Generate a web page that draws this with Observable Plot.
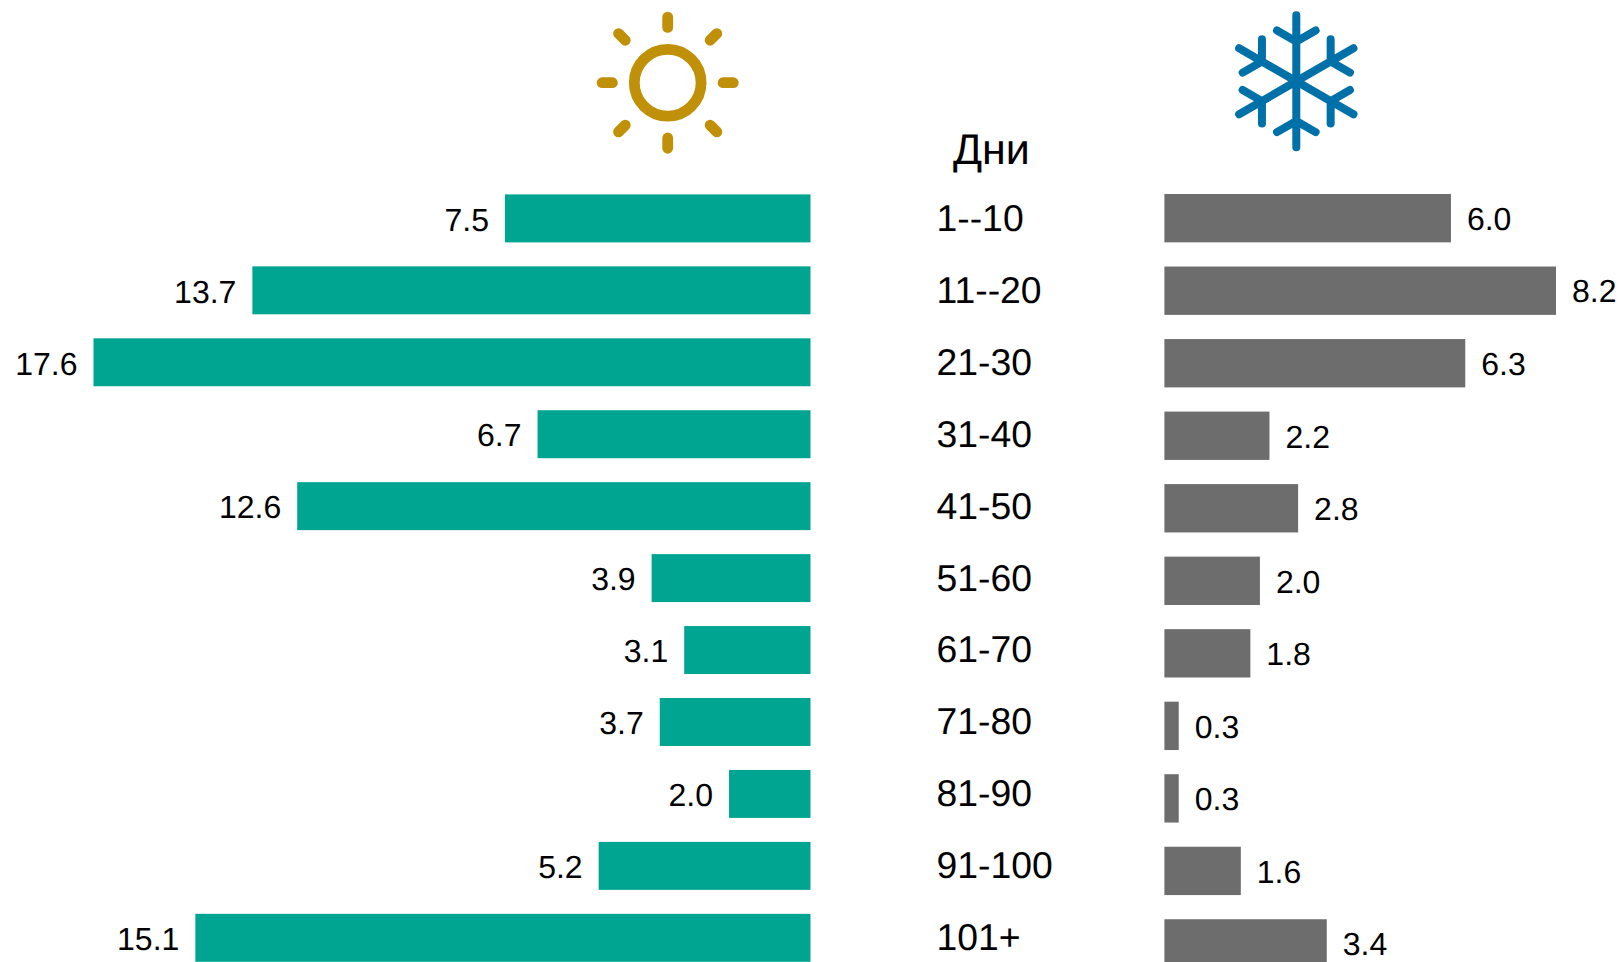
<!DOCTYPE html>
<html><head><meta charset="utf-8">
<script src="https://cdn.jsdelivr.net/npm/d3@7"></script>
<script src="https://cdn.jsdelivr.net/npm/@observablehq/plot@0.6"></script>
<style>
html,body{margin:0;padding:0;background:#fff}
#c{position:relative;width:1621px;height:962px;overflow:hidden;font-family:"Liberation Sans",Arial,sans-serif;text-rendering:geometricPrecision}
#c>svg,#c>div{position:absolute;left:0;top:0}
#h{left:953px!important;top:125px!important;font-size:43px;color:#000;line-height:50px}
</style></head><body><div id="c"></div>
<script>
const days=["1--10","11--20","21-30","31-40","41-50","51-60","61-70","71-80","81-90","91-100","101+"];
const summer=[7.5,13.7,17.6,6.7,12.6,3.9,3.1,3.7,2.0,5.2,15.1];
const winter=[6.0,8.2,6.3,2.2,2.8,2.0,1.8,0.3,0.3,1.6,3.4];
const headerLabel="Дни";
const left=days.map((d,i)=>({d,v:summer[i]}));
const right=days.map((d,i)=>({d,v:winter[i]}));
const font={fontFamily:"Liberation Sans, Arial, sans-serif",background:"none",overflow:"visible",textRendering:"geometricPrecision"};
const yOpts=(r)=>({domain:days,range:r,padding:1/3,paddingOuter:0,align:0.5,round:false,axis:null});
const pl=Plot.plot({width:1621,height:962,marginLeft:0,marginTop:0,marginBottom:0,marginRight:685,style:font,
  x:{domain:[0,17.6],range:[810.5,93.5],axis:null},y:yOpts([194.4,961.8]),
  marks:[
    Plot.barX(left,{x:"v",y:"d",fill:"#00A591"}),
    Plot.text(left,{x:"v",y:"d",text:d=>d.v.toFixed(1),textAnchor:"end",dx:-16.5,dy:1.5,fontSize:32,fill:"#000"}),
    Plot.axisY({anchor:"right",tickSize:0,tickPadding:0,label:null,fontSize:37.33,color:"#000",tickFormat:d=>d,dy:0})
  ]});
const pr=Plot.plot({width:1621,height:962,marginLeft:0,marginTop:0,marginBottom:0,marginRight:0,style:font,
  x:{domain:[0,8.2],range:[1164.4,1556],axis:null},y:yOpts([194,967.6]),
  marks:[
    Plot.barX(right,{x:"v",y:"d",fill:"#6D6D6D"}),
    Plot.text(right,{x:"v",y:"d",text:d=>d.v.toFixed(1),textAnchor:"start",dx:15.5,dy:1,fontSize:32,fill:"#000"})
  ]});
const c=document.getElementById("c");
c.append(pl,pr);
const h=document.createElement("div");h.id="h";h.textContent=headerLabel;c.append(h);
const sunRays=[0,90,180,270].map(a=>`<line transform="rotate(${a})" x1="0" y1="-55.3" x2="0" y2="-65.6"/>`).join("")
 +[45,135,225,315].map(a=>`<line transform="rotate(${a})" x1="0" y1="-60" x2="0" y2="-69.5"/>`).join("");
const flakeArm=`<path d="M0 0V-66M-19.3 -50.8L0 -39.7L19.3 -50.8"/>`;
const flake=[0,60,120,180,240,300].map(a=>`<g transform="rotate(${a})">${flakeArm}</g>`).join("");
const icons=document.createElement("div");
icons.innerHTML=`<svg width="1621" height="962" style="display:block">
<g transform="translate(667.7,82.7)" fill="none" stroke="#BF9008" stroke-width="10.8" stroke-linecap="round"><circle r="33.4"/>${sunRays}</g>
<g transform="translate(1296.3,81.3)" fill="none" stroke="#0070A8" stroke-width="8" stroke-linecap="round" stroke-linejoin="round">${flake}</g>
</svg>`;
c.append(icons);
</script></body></html>
